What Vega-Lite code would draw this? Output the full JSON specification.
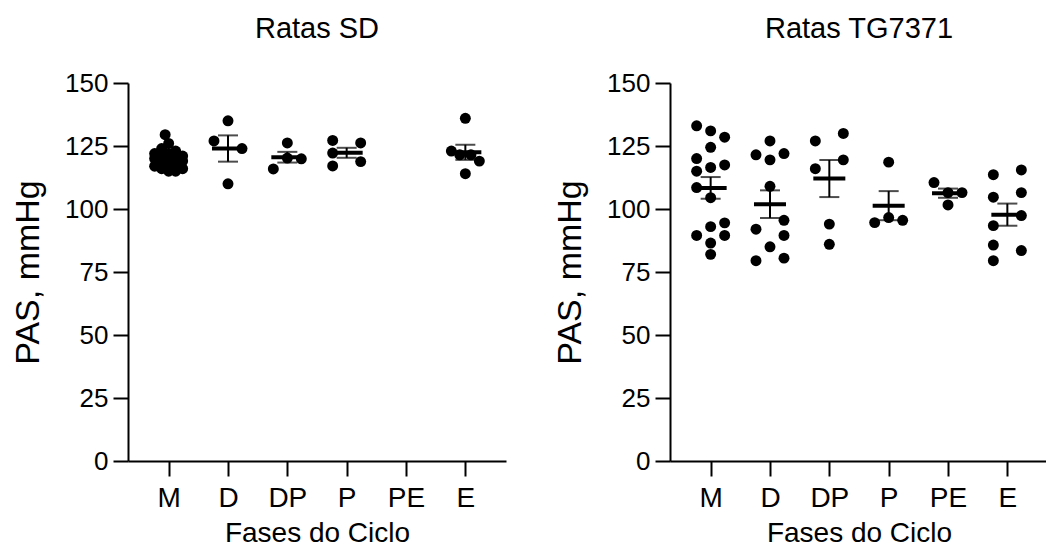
{
  "$schema": "https://vega.github.io/schema/vega-lite/v6.json",
  "background": "white",
  "padding": {"left": 11, "top": 15, "right": 0, "bottom": 0},
  "spacing": 47,
  "config": {
    "font": "Liberation Sans",
    "view": {"stroke": null},
    "axis": {
      "grid": false,
      "domainColor": "black",
      "domainWidth": 2,
      "tickColor": "black",
      "tickWidth": 2,
      "tickSize": 15,
      "labelColor": "black",
      "titleColor": "black",
      "labelFont": "Liberation Sans",
      "titleFont": "Liberation Sans",
      "titleFontWeight": "normal"
    },
    "title": {"font": "Liberation Sans", "fontWeight": "normal", "fontSize": 29, "color": "black", "offset": 26}
  },
  "datasets": {
    "pas": [
      {"panel": "SD", "fase": "M", "pas": 129.5, "col": -0.5},
      {"panel": "SD", "fase": "M", "pas": 126, "col": 0},
      {"panel": "SD", "fase": "M", "pas": 124, "col": -1},
      {"panel": "SD", "fase": "M", "pas": 123, "col": 1},
      {"panel": "SD", "fase": "M", "pas": 122, "col": -2},
      {"panel": "SD", "fase": "M", "pas": 122, "col": 0},
      {"panel": "SD", "fase": "M", "pas": 121, "col": 2},
      {"panel": "SD", "fase": "M", "pas": 121, "col": -1},
      {"panel": "SD", "fase": "M", "pas": 120, "col": 1},
      {"panel": "SD", "fase": "M", "pas": 120, "col": -2},
      {"panel": "SD", "fase": "M", "pas": 119, "col": 0},
      {"panel": "SD", "fase": "M", "pas": 119, "col": 2},
      {"panel": "SD", "fase": "M", "pas": 118, "col": -1},
      {"panel": "SD", "fase": "M", "pas": 118, "col": 1},
      {"panel": "SD", "fase": "M", "pas": 117, "col": -2},
      {"panel": "SD", "fase": "M", "pas": 117, "col": 0},
      {"panel": "SD", "fase": "M", "pas": 116, "col": 2},
      {"panel": "SD", "fase": "M", "pas": 116, "col": -1},
      {"panel": "SD", "fase": "M", "pas": 115, "col": 1},
      {"panel": "SD", "fase": "M", "pas": 115, "col": 0},
      {"panel": "SD", "fase": "D", "pas": 135, "col": 0},
      {"panel": "SD", "fase": "D", "pas": 127, "col": -2},
      {"panel": "SD", "fase": "D", "pas": 124, "col": 2},
      {"panel": "SD", "fase": "D", "pas": 110, "col": 0},
      {"panel": "SD", "fase": "DP", "pas": 126.2, "col": 0},
      {"panel": "SD", "fase": "DP", "pas": 120.2, "col": 0},
      {"panel": "SD", "fase": "DP", "pas": 119.9, "col": 2},
      {"panel": "SD", "fase": "DP", "pas": 115.9, "col": -2},
      {"panel": "SD", "fase": "P", "pas": 127.2, "col": -2},
      {"panel": "SD", "fase": "P", "pas": 126.2, "col": 2},
      {"panel": "SD", "fase": "P", "pas": 122.2, "col": -2},
      {"panel": "SD", "fase": "P", "pas": 118.8, "col": 2},
      {"panel": "SD", "fase": "P", "pas": 117.1, "col": -2},
      {"panel": "SD", "fase": "E", "pas": 136, "col": 0},
      {"panel": "SD", "fase": "E", "pas": 123, "col": -2},
      {"panel": "SD", "fase": "E", "pas": 121.5, "col": -0.8},
      {"panel": "SD", "fase": "E", "pas": 121.5, "col": 0.8},
      {"panel": "SD", "fase": "E", "pas": 119, "col": 2},
      {"panel": "SD", "fase": "E", "pas": 114, "col": 0},
      {"panel": "TG7371", "fase": "M", "pas": 133, "col": -2},
      {"panel": "TG7371", "fase": "M", "pas": 131, "col": 0},
      {"panel": "TG7371", "fase": "M", "pas": 128.5, "col": 2},
      {"panel": "TG7371", "fase": "M", "pas": 124.5, "col": 0},
      {"panel": "TG7371", "fase": "M", "pas": 120, "col": -2},
      {"panel": "TG7371", "fase": "M", "pas": 116.5, "col": 0},
      {"panel": "TG7371", "fase": "M", "pas": 117.5, "col": 2},
      {"panel": "TG7371", "fase": "M", "pas": 115, "col": -2},
      {"panel": "TG7371", "fase": "M", "pas": 108.5, "col": -2},
      {"panel": "TG7371", "fase": "M", "pas": 104.5, "col": 0},
      {"panel": "TG7371", "fase": "M", "pas": 94.5, "col": 2},
      {"panel": "TG7371", "fase": "M", "pas": 93, "col": 0},
      {"panel": "TG7371", "fase": "M", "pas": 89.5, "col": -2},
      {"panel": "TG7371", "fase": "M", "pas": 89.5, "col": 2},
      {"panel": "TG7371", "fase": "M", "pas": 86.5, "col": 0},
      {"panel": "TG7371", "fase": "M", "pas": 82, "col": 0},
      {"panel": "TG7371", "fase": "D", "pas": 127, "col": 0},
      {"panel": "TG7371", "fase": "D", "pas": 121.5, "col": -2},
      {"panel": "TG7371", "fase": "D", "pas": 122, "col": 2},
      {"panel": "TG7371", "fase": "D", "pas": 119.5, "col": 0},
      {"panel": "TG7371", "fase": "D", "pas": 109, "col": 0},
      {"panel": "TG7371", "fase": "D", "pas": 95.5, "col": 2},
      {"panel": "TG7371", "fase": "D", "pas": 92, "col": -2},
      {"panel": "TG7371", "fase": "D", "pas": 89.5, "col": 2},
      {"panel": "TG7371", "fase": "D", "pas": 85, "col": 0},
      {"panel": "TG7371", "fase": "D", "pas": 79.5, "col": -2},
      {"panel": "TG7371", "fase": "D", "pas": 80.5, "col": 2},
      {"panel": "TG7371", "fase": "DP", "pas": 127, "col": -2},
      {"panel": "TG7371", "fase": "DP", "pas": 130, "col": 2},
      {"panel": "TG7371", "fase": "DP", "pas": 116, "col": -2},
      {"panel": "TG7371", "fase": "DP", "pas": 119.5, "col": 2},
      {"panel": "TG7371", "fase": "DP", "pas": 94, "col": 0},
      {"panel": "TG7371", "fase": "DP", "pas": 86, "col": 0},
      {"panel": "TG7371", "fase": "P", "pas": 118.6, "col": 0},
      {"panel": "TG7371", "fase": "P", "pas": 94.6, "col": -2},
      {"panel": "TG7371", "fase": "P", "pas": 96.6, "col": 0},
      {"panel": "TG7371", "fase": "P", "pas": 95.5, "col": 2},
      {"panel": "TG7371", "fase": "PE", "pas": 110.5, "col": -2},
      {"panel": "TG7371", "fase": "PE", "pas": 106.5, "col": 0},
      {"panel": "TG7371", "fase": "PE", "pas": 106.5, "col": 2},
      {"panel": "TG7371", "fase": "PE", "pas": 101.6, "col": 0},
      {"panel": "TG7371", "fase": "E", "pas": 113.6, "col": -2},
      {"panel": "TG7371", "fase": "E", "pas": 115.5, "col": 2},
      {"panel": "TG7371", "fase": "E", "pas": 104.7, "col": -2},
      {"panel": "TG7371", "fase": "E", "pas": 106.5, "col": 2},
      {"panel": "TG7371", "fase": "E", "pas": 97.4, "col": 2},
      {"panel": "TG7371", "fase": "E", "pas": 93.4, "col": -2},
      {"panel": "TG7371", "fase": "E", "pas": 85.7, "col": -2},
      {"panel": "TG7371", "fase": "E", "pas": 83.5, "col": 2},
      {"panel": "TG7371", "fase": "E", "pas": 79.5, "col": -2}
    ]
  },
  "hconcat": [
    {
      "title": "Ratas SD",
      "width": 378,
      "height": 378,
      "data": {"name": "pas"},
      "transform": [{"filter": "datum.panel === 'SD'"}],
      "encoding": {
        "x": {
          "field": "fase", "type": "nominal",
          "scale": {"type": "point", "domain": ["M", "D", "DP", "P", "PE", "E"], "padding": 0.685},
          "axis": {"title": "Fases do Ciclo", "labelAngle": 0, "labelFontSize": 28, "titleFontSize": 28, "labelPadding": 8, "titlePadding": 7}
        }
      },
      "layer": [
        {
          "mark": {"type": "point", "filled": true, "shape": "circle", "size": 120, "color": "black", "opacity": 1},
          "encoding": {
            "y": {"field": "pas", "type": "quantitative", "title": "PAS, mmHg", "scale": {"domain": [0, 150], "nice": false, "zero": true},
                  "axis": {"title": "PAS, mmHg", "values": [0, 25, 50, 75, 100, 125, 150], "labelFontSize": 26, "titleFontSize": 34, "labelPadding": 5, "titlePadding": 19}},
            "xOffset": {"field": "col", "type": "quantitative", "scale": {"domain": [-2, 2], "range": [-14, 14]}}
          }
        },
        {
          "mark": {"type": "errorbar", "extent": "stderr", "color": "black", "rule": {"strokeWidth": 2}, "ticks": {"size": 20, "thickness": 2, "color": "black"}},
          "encoding": {"y": {"field": "pas", "type": "quantitative", "title": "PAS, mmHg"}}
        },
        {
          "mark": {"type": "tick", "color": "black", "size": 32, "thickness": 4, "orient": "horizontal", "opacity": 1},
          "encoding": {"y": {"aggregate": "mean", "field": "pas", "type": "quantitative", "title": "PAS, mmHg"}}
        }
      ]
    },
    {
      "title": "Ratas TG7371",
      "width": 378,
      "height": 378,
      "data": {"name": "pas"},
      "transform": [{"filter": "datum.panel === 'TG7371'"}],
      "encoding": {
        "x": {
          "field": "fase", "type": "nominal",
          "scale": {"type": "point", "domain": ["M", "D", "DP", "P", "PE", "E"], "padding": 0.685},
          "axis": {"title": "Fases do Ciclo", "labelAngle": 0, "labelFontSize": 28, "titleFontSize": 28, "labelPadding": 8, "titlePadding": 7}
        }
      },
      "layer": [
        {
          "mark": {"type": "point", "filled": true, "shape": "circle", "size": 120, "color": "black", "opacity": 1},
          "encoding": {
            "y": {"field": "pas", "type": "quantitative", "title": "PAS, mmHg", "scale": {"domain": [0, 150], "nice": false, "zero": true},
                  "axis": {"title": "PAS, mmHg", "values": [0, 25, 50, 75, 100, 125, 150], "labelFontSize": 26, "titleFontSize": 34, "labelPadding": 5, "titlePadding": 19}},
            "xOffset": {"field": "col", "type": "quantitative", "scale": {"domain": [-2, 2], "range": [-14, 14]}}
          }
        },
        {
          "mark": {"type": "errorbar", "extent": "stderr", "color": "black", "rule": {"strokeWidth": 2}, "ticks": {"size": 20, "thickness": 2, "color": "black"}},
          "encoding": {"y": {"field": "pas", "type": "quantitative", "title": "PAS, mmHg"}}
        },
        {
          "mark": {"type": "tick", "color": "black", "size": 32, "thickness": 4, "orient": "horizontal", "opacity": 1},
          "encoding": {"y": {"aggregate": "mean", "field": "pas", "type": "quantitative", "title": "PAS, mmHg"}}
        }
      ]
    }
  ]
}
